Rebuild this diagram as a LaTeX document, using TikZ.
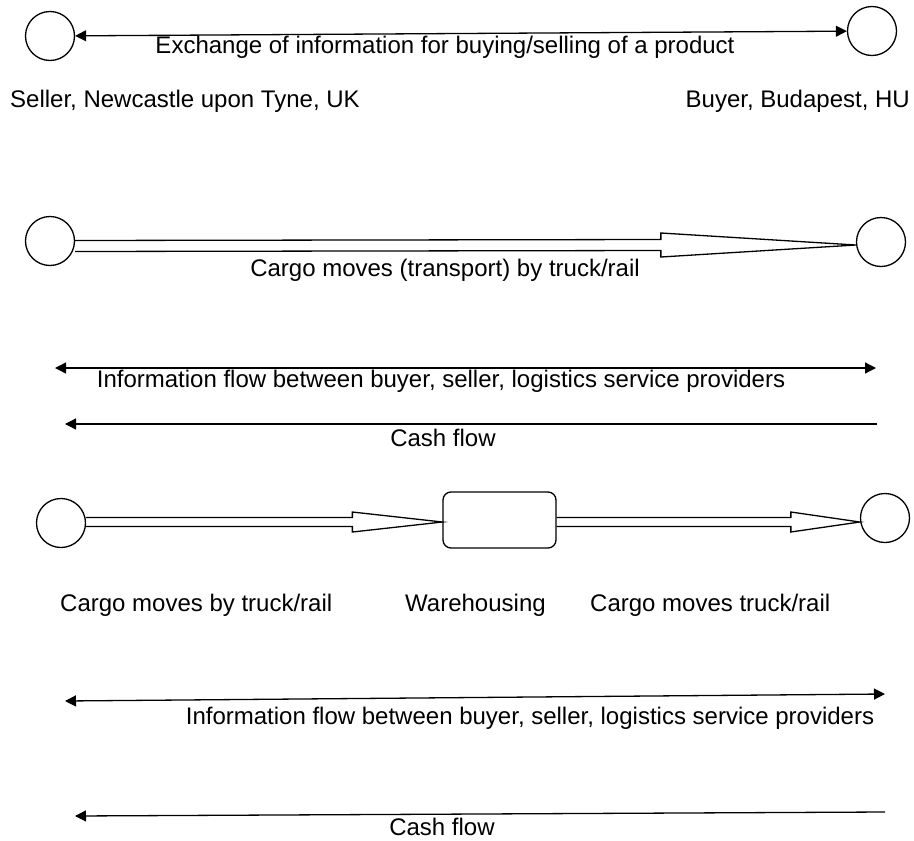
\documentclass[tikz,border=0pt]{standalone}
\usepackage{fontspec}
\setmainfont{Liberation Sans}
\usetikzlibrary{arrows.meta,calc}
\tikzset{
  place/.style={draw,circle,line width=1.3pt,minimum size=49pt,inner sep=0pt},
  store/.style={draw,rounded corners=8pt,line width=1.3pt,minimum width=113pt,minimum height=56pt,inner sep=0pt},
  lbl/.style={font=\fontsize{24}{28}\selectfont,inner sep=0pt},
  flow/.style={line width=1.3pt,-{Triangle[length=11pt,width=11pt]}},
  bflow/.style={line width=1.3pt,{Triangle[length=11pt,width=11pt]}-{Triangle[length=11pt,width=11pt]}},
  fat/.style={line width=1.3pt,line join=miter}
}
\begin{document}
\begin{tikzpicture}[x=1pt,y=-1pt]
\useasboundingbox (0,0) rectangle (914,841);
% row 1
\node[place] (s1) at (50,36) {};
\node[place] (b1) at (872,31) {};
\draw[bflow] (s1) -- (b1);
\node[lbl] (t1) at (445,47) {Exchange of information for buying/selling of a product};
\node[lbl,anchor=west] (t2) at (10,101) {Seller, Newcastle upon Tyne, UK};
\node[lbl,anchor=east] (t3) at (910,101) {Buyer, Budapest, HU};
% row 2
\node[place] (s2) at (50,241) {};
\node[place] (b2) at (881,242) {};
\coordinate (a2) at ($(s2.east)+(0,5)$);
\coordinate (z2) at ($(b2.west)+(0,3)$);
\draw[fat] ($(a2)+(0,-5.5)$) -- ($(z2)+(-195,-5.5)$) -- ($(z2)+(-195,-12)$) -- (z2)
  -- ($(z2)+(-195,12)$) -- ($(z2)+(-195,5.5)$) -- ($(a2)+(0,5.5)$);
\node[lbl] (t4) at (445,270) {Cargo moves (transport) by truck/rail};
% row 3
\coordinate (i3l) at (55,368);
\coordinate (i3r) at (876,368);
\draw[bflow] (i3l) -- (i3r);
\node[lbl] (t5) at (441,381) {Information flow between buyer, seller, logistics service providers};
\coordinate (c3l) at (65,424);
\coordinate (c3r) at (877,424);
\draw[flow] (c3r) -- (c3l);
\node[lbl] (t6) at (443,438) {Cash flow};
% row 4
\node[place] (s4) at (61,523) {};
\node[store] (w4) at (499.5,520) {};
\node[place] (b4) at (885,518) {};
\coordinate (a4) at ($(s4.east)+(0,-1)$);
\coordinate (z4) at ($(w4.west)+(0,2)$);
\draw[fat] ($(a4)+(0,-4.5)$) -- ($(z4)+(-90,-4.5)$) -- ($(z4)+(-90,-10)$) -- (z4)
  -- ($(z4)+(-90,10)$) -- ($(z4)+(-90,4.5)$) -- ($(a4)+(0,4.5)$);
\coordinate (a5) at ($(w4.east)+(0,2)$);
\coordinate (z5) at ($(b4.west)+(0,4)$);
\draw[fat] ($(a5)+(0,-4.5)$) -- ($(z5)+(-69,-4.5)$) -- ($(z5)+(-69,-10)$) -- (z5)
  -- ($(z5)+(-69,10)$) -- ($(z5)+(-69,4.5)$) -- ($(a5)+(0,4.5)$);
\node[lbl,anchor=west] (t7) at (60,605) {Cargo moves by truck/rail};
\node[lbl,anchor=west] (t8) at (405,605) {Warehousing};
\node[lbl,anchor=west] (t9) at (590,605) {Cargo moves truck/rail};
% row 5
\coordinate (i5l) at (65,701);
\coordinate (i5r) at (885,694);
\draw[bflow] (i5l) -- (i5r);
\node[lbl] (t10) at (530,718) {Information flow between buyer, seller, logistics service providers};
\coordinate (c5l) at (75,816);
\coordinate (c5r) at (885,812);
\draw[flow] (c5r) -- (c5l);
\node[lbl] (t11) at (442,827) {Cash flow};
\end{tikzpicture}
\end{document}
